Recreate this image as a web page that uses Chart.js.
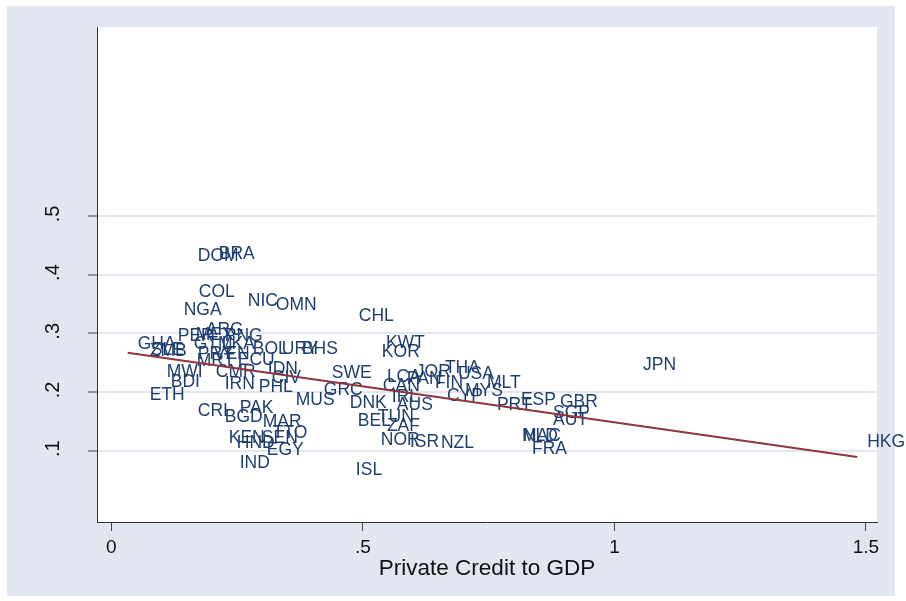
<!DOCTYPE html>
<html><head><meta charset="utf-8">
<script src="https://cdn.jsdelivr.net/npm/chart.js@4.4.0/dist/chart.umd.min.js"></script>
<style>html,body{margin:0;padding:0;background:#fff;}#wrap{width:906px;height:601px;position:relative;}</style>
</head><body><div id="wrap"><canvas id="c" width="906" height="601"></canvas></div>
<script>
const countries = ['DOM','BRA','COL','NIC','OMN','NGA','CHL','ARG','PER','MEX','PNG','KWT','GHA','GTM','LKA','BOL','URY','BHS','ZMB','SLE','KOR','PRY','VEN','MRT','ECU','MWI','CMR','IDN','CIV','JOR','THA','USA','SWE','LCA','PAN','FIN','MLT','MYS','CAN','GRC','IRN','PHL','BDI','ETH','MUS','CYP','IRL','DNK','AUS','PRT','ESP','GBR','SGP','AUT','CRI','PAK','BGD','MAR','BEL','TUN','ZAF','TTO','KEN','HND','SEN','EGY','NOR','ISR','NZL','NLD','MAC','FRA','IND','ISL','JPN','HKG'];
const credit = [0.1518,0.1936,0.1538,0.2512,0.3069,0.1239,0.4720,0.1677,0.1120,0.1478,
0.2055,0.5258,0.0324,0.1438,0.1995,0.2612,0.3189,0.3587,0.0563,0.0583,
0.5178,0.1518,0.1836,0.1498,0.2314,0.0901,0.1876,0.2910,0.2990,0.5854,
0.6431,0.6690,0.4183,0.5278,0.5675,0.6232,0.7267,0.6829,0.5198,0.4024,
0.2055,0.2731,0.0981,0.0563,0.3467,0.6471,0.5377,0.4541,0.5476,0.7466,
0.7943,0.8719,0.8580,0.8580,0.1518,0.2353,0.2055,0.2811,0.4701,0.5098,
0.5278,0.3010,0.2134,0.2294,0.2791,0.2890,0.5158,0.5735,0.6352,0.7983,
0.7963,0.8162,0.2353,0.4661,1.0370,1.4826];
const yValue = [0.4336,0.4379,0.3718,0.3579,0.3506,0.3409,0.3315,0.3077,0.2974,0.2991,
0.2974,0.2855,0.2833,0.2838,0.2838,0.2753,0.2753,0.2753,0.2719,0.2736,
0.2702,0.2668,0.2668,0.2549,0.2566,0.2362,0.2362,0.2413,0.2260,0.2362,
0.2430,0.2328,0.2336,0.2277,0.2243,0.2174,0.2174,0.2038,0.2115,0.2055,
0.2157,0.2106,0.2191,0.1970,0.1885,0.1945,0.1928,0.1834,0.1800,0.1805,
0.1885,0.1854,0.1664,0.1545,0.1698,0.1749,0.1596,0.1511,0.1528,0.1596,
0.1443,0.1323,0.1238,0.1153,0.1238,0.1034,0.1204,0.1170,0.1145,0.1264,
0.1264,0.1046,0.0813,0.0694,0.2472,0.1170];
const fitX = [0.0324, 1.4826];
const fitY = [0.2668, 0.0895];
const xTicks = [0, 0.5, 1, 1.5];
const xTickLabels = ['0', '.5', '1', '1.5'];
const yTicks = [0.1, 0.2, 0.3, 0.4, 0.5];
const yTickLabels = ['.1', '.2', '.3', '.4', '.5'];
const xTitle = 'Private Credit to GDP';

const BG = '#E1E6F0';
const NAVY = '#1F3E70';
const LABEL_FONT = '17.5px "Liberation Sans", Arial, sans-serif';

const bgPlugin = {
  id: 'bg',
  beforeDraw(chart) {
    const {ctx, chartArea: a} = chart;
    ctx.save();
    ctx.fillStyle = '#ffffff';
    ctx.fillRect(0, 0, chart.width, chart.height);
    ctx.fillStyle = BG;
    ctx.fillRect(7, 6, 888, 590);
    ctx.fillStyle = '#ffffff';
    ctx.fillRect(a.left, a.top, a.right - a.left, a.bottom - a.top);
    ctx.restore();
  }
};

const labelPlugin = {
  id: 'mlabels',
  afterDatasetDraw(chart, args) {
    if (args.index !== 0) return;
    const ctx = chart.ctx;
    const meta = chart.getDatasetMeta(0);
    ctx.save();
    ctx.font = LABEL_FONT;
    ctx.fillStyle = NAVY;
    ctx.textAlign = 'left';
    ctx.textBaseline = 'alphabetic';
    meta.data.forEach((el, i) => {
      ctx.fillText(countries[i], el.x + 10, el.y + 6.2);
    });
    ctx.restore();
  }
};

const yLabelPlugin = {
  id: 'ylabels',
  afterDraw(chart) {
    const ctx = chart.ctx;
    const s = chart.scales.y;
    ctx.save();
    ctx.font = '20px "Liberation Sans", Arial, sans-serif';
    ctx.fillStyle = '#111';
    ctx.textAlign = 'center';
    ctx.textBaseline = 'middle';
    yTicks.forEach((v, i) => {
      const y = s.getPixelForValue(v);
      ctx.save();
      ctx.translate(53, y - 2);
      ctx.rotate(-Math.PI / 2);
      ctx.fillText(yTickLabels[i], 0, 0);
      ctx.restore();
    });
    ctx.restore();
  }
};

new Chart(document.getElementById('c'), {
  type: 'scatter',
  data: {
    datasets: [
      {
        label: 'countries',
        data: credit.map((x, i) => ({x: x, y: yValue[i]})),
        pointRadius: 0,
        pointHoverRadius: 0,
        showLine: false,
        order: 1
      },
      {
        label: 'fit',
        type: 'line',
        data: fitX.map((x, i) => ({x: x, y: fitY[i]})),
        borderColor: '#90353B',
        borderWidth: 2,
        pointRadius: 0,
        fill: false,
        tension: 0,
        order: 0
      }
    ]
  },
  options: {
    responsive: false,
    devicePixelRatio: 1,
    animation: false,
    events: [],
    layout: {padding: {left: 0, right: 29, top: 27, bottom: 0}},
    plugins: {legend: {display: false}, tooltip: {enabled: false}, title: {display: false}},
    scales: {
      x: {
        type: 'linear',
        min: -0.0286,
        max: 1.522,
        afterBuildTicks(s) { s.ticks = xTicks.map(v => ({value: v})); },
        afterFit(s) { s.height = 79; },
        ticks: {
          callback(v) { const k = xTicks.indexOf(v); return k >= 0 ? xTickLabels[k] : ''; },
          font: {family: '"Liberation Sans", Arial, sans-serif', size: 19},
          color: '#111',
          padding: 5,
          maxRotation: 0,
          autoSkip: false
        },
        grid: {drawOnChartArea: false, drawTicks: true, tickLength: 9, tickColor: '#444', tickWidth: 1},
        border: {display: true, color: '#333', width: 1},
        title: {
          display: true,
          text: xTitle,
          color: '#111',
          font: {family: '"Liberation Sans", Arial, sans-serif', size: 22.5},
          padding: {top: 0, bottom: 19}
        }
      },
      y: {
        type: 'linear',
        min: -0.0214,
        max: 0.8217,
        afterBuildTicks(s) { s.ticks = yTicks.map(v => ({value: v})); },
        afterFit(s) { s.width = 97; },
        ticks: {display: false},
        grid: {color: BG, lineWidth: 2, drawTicks: true, tickLength: 9, tickColor: '#444', tickWidth: 1},
        border: {display: true, color: '#333', width: 1}
      }
    }
  },
  plugins: [bgPlugin, labelPlugin, yLabelPlugin]
});
</script>
</body></html>
